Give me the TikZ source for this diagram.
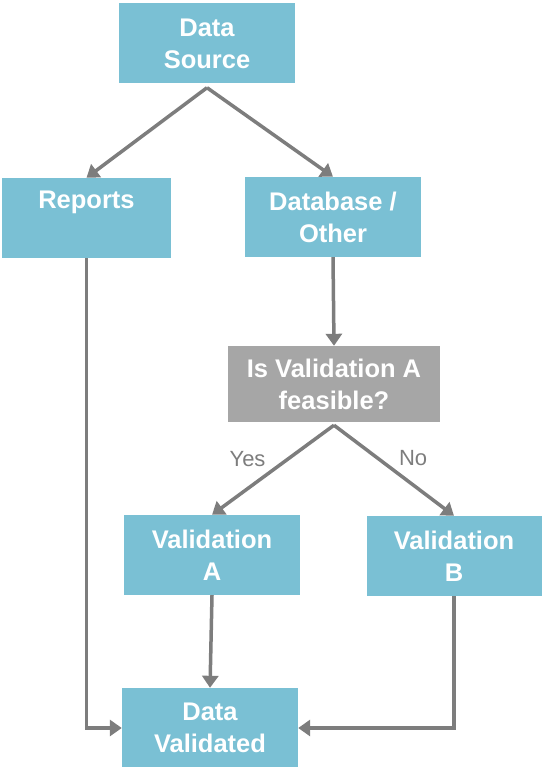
\documentclass[tikz,border=0pt]{standalone}
\usepackage{fontspec}
\setmainfont{Liberation Sans}
\usetikzlibrary{arrows.meta}
\definecolor{boxblue}{RGB}{122,192,212}
\definecolor{boxgray}{RGB}{166,166,166}
\definecolor{linegray}{RGB}{125,125,125}
\begin{document}
\begin{tikzpicture}[x=1pt, y=-1pt,
    blk/.style={fill=boxblue, text=white, font=\fontsize{25.5}{32}\selectfont\bfseries, align=center,
        minimum width=176pt, minimum height=80pt, inner sep=0pt},
    ask/.style={blk, fill=boxgray, minimum width=212pt, minimum height=76pt},
    flow/.style={draw=linegray, line width=3.5pt, -{Triangle[length=12pt, width=16pt]}},
    ans/.style={text=linegray, font=\fontsize{22}{26}\selectfont}]
    \useasboundingbox (0,0) rectangle (541,767);

    % Boxes
    \node[blk] (src) at (207,43.5) {Data\\Source};
    \node[blk, minimum width=169pt] (rep) at (86.5,218) {Reports\\[-6pt]\strut};
    \node[blk] (db) at (333,217) {Database /\\Other};
    \node[ask] (q) at (334,384) {Is Validation A\\feasible?};
    \node[blk] (va) at (212,555) {Validation\\A};
    \node[blk, minimum width=175pt] (vb) at (454,556) {Validation\\B};
    \node[blk] (dv) at (210,728) {Data\\Validated};

    % forks below the boxes
    \coordinate (srcfork) at ([yshift=-4pt]src.south);
    \coordinate (qfork) at ([yshift=-3pt]q.south);

    % Arrows from the source
    \draw[flow] (srcfork) -- (rep.north);
    \draw[flow] (srcfork) -- (db.north);
    \draw[flow] (db.south) -- (q.north);

    % Decision
    \draw[flow] (qfork) -- node[ans, above left, pos=0.52] {Yes} (va.north);
    \draw[flow] (qfork) -- node[ans, above right, pos=0.5] {No} (vb.north);

    % Into the result
    \draw[flow] (rep.south) |- (dv.west);
    \draw[flow] (va.south) -- (dv.north);
    \draw[flow] (vb.south) |- (dv.east);
\end{tikzpicture}
\end{document}
